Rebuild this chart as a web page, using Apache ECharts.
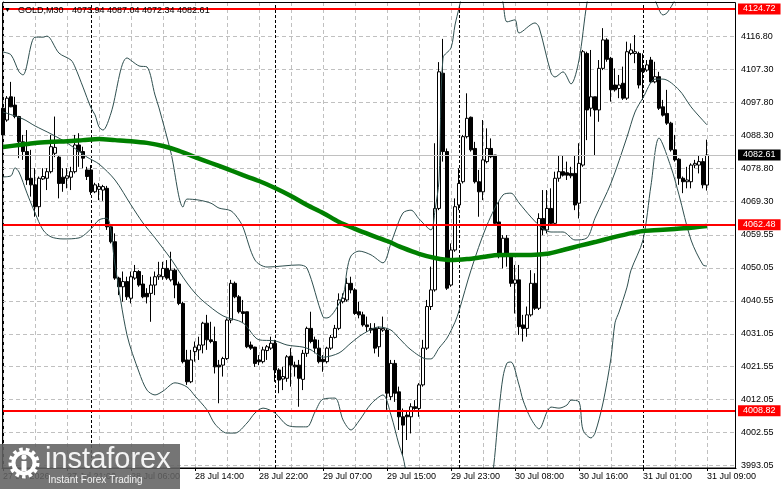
<!DOCTYPE html>
<html>
<head>
<meta charset="utf-8">
<script src="https://cdn.jsdelivr.net/npm/echarts@6.0.0/dist/echarts.min.js"></script>
<style>
html,body{margin:0;padding:0;background:#fff;}
#main{width:781px;height:489px;}
</style>
</head>
<body>
<div id="main"></div>
<script>
// GOLD M30, bar index 0..176 (last bar = 31 Jul 09:00)
var opens = [4096.1,4092.7,4099.4,4097.0,4093.7,4086.4,4083.6,4075.9,4074.0,4067.7,4075.7,4075.9,4077.8,4083.1,4082.0,4076.2,4075.9,4076.2,4077.8,4085.5,
4083.6,4078.3,4078.3,4072.0,4072.7,4072.5,4073.0,4061.9,4057.6,4047.1,4044.6,4046.1,4041.3,4047.1,4049.0,4045.4,4042.7,4042.7,4045.1,4047.5,
4047.5,4049.9,4046.6,4049.4,4045.4,4039.8,4023.5,4017.2,4025.9,4026.4,4027.8,4034.1,4029.3,4028.8,4022.0,4022.0,4023.9,4035.0,4045.6,4041.7,
4037.4,4037.4,4027.8,4027.2,4023.5,4023.0,4026.2,4026.9,4028.3,4020.6,4018.0,4018.2,4024.6,4022.0,4022.0,4017.9,4025.4,4032.6,4029.3,4026.9,
4023.7,4023.0,4026.9,4030.0,4032.6,4040.3,4040.8,4045.6,4043.7,4037.4,4036.5,4033.6,4032.6,4032.6,4027.3,4032.1,4032.1,4012.9,4022.5,4014.3,
4007.1,4007.6,4007.1,4010.0,4009.5,4016.3,4026.9,4038.9,4043.7,4067.2,4106.2,4083.6,4045.1,4055.2,4068.2,4074.9,4087.9,4093.5,4084.5,4074.9,
4072.0,4080.7,4084.5,4082.6,4063.3,4053.3,4058.6,4053.8,4045.6,4046.6,4033.6,4032.6,4036.5,4045.6,4038.4,4064.3,4061.0,4067.2,4062.9,4075.9,
4077.8,4077.5,4077.3,4077.3,4068.7,4079.7,4111.9,4096.1,4099.4,4095.6,4107.6,4115.8,4110.5,4102.8,4101.8,4103.3,4099.0,4111.9,4111.9,4111.9,
4107.6,4107.1,4110.0,4103.7,4105.2,4096.5,4094.6,4091.8,4084.1,4081.4,4075.9,4074.9,4074.9,4079.7,4079.7,4080.7,4073.94];
var closes = [4088.4,4099.0,4096.5,4093.7,4086.4,4083.6,4075.4,4074.0,4067.7,4075.9,4076.4,4077.8,4085.0,4084.8,4074.4,4074.4,4076.6,4077.8,4085.5,4083.6,
4081.7,4076.4,4072.0,4074.0,4073.5,4073.5,4061.9,4057.6,4047.1,4044.6,4046.1,4041.7,4047.5,4049.0,4045.1,4041.7,4041.7,4045.1,4047.5,4048.0,
4049.9,4047.1,4049.4,4045.1,4039.8,4023.0,4017.2,4023.5,4027.2,4027.8,4034.1,4029.3,4028.8,4021.5,4021.5,4023.9,4035.0,4045.6,4041.7,4037.4,
4036.9,4027.3,4026.9,4022.5,4023.0,4026.4,4027.3,4028.3,4020.6,4017.7,4018.7,4024.4,4022.0,4021.5,4018.2,4025.4,4032.6,4028.8,4026.9,4023.0,
4023.0,4026.9,4030.0,4032.6,4040.8,4041.3,4045.6,4043.7,4036.9,4036.5,4033.6,4033.1,4032.1,4026.9,4032.6,4032.6,4013.9,4022.5,4013.9,4007.1,
4004.7,4007.1,4010.0,4009.5,4016.3,4026.9,4038.9,4043.7,4067.2,4106.6,4083.6,4044.2,4055.2,4067.7,4074.4,4087.9,4093.2,4084.1,4074.9,4072.0,
4081.2,4084.5,4082.1,4062.9,4053.3,4058.6,4053.8,4045.6,4046.6,4033.1,4032.6,4036.5,4045.6,4038.4,4064.3,4061.0,4067.2,4062.9,4075.9,4077.8,
4076.8,4076.8,4076.6,4068.2,4080.2,4112.4,4095.6,4099.4,4095.6,4107.6,4115.8,4110.2,4101.4,4101.4,4102.8,4099.0,4112.4,4112.9,4112.4,4102.8,
4106.6,4108.6,4103.7,4105.2,4096.1,4094.1,4091.8,4084.1,4081.2,4075.9,4074.9,4075.4,4079.7,4080.2,4080.7,4074.0,4082.61];
var lows = [4087.9,4092.2,4096.4,4093.2,4081.7,4081.2,4074.0,4070.6,4064.8,4064.8,4075.4,4072.5,4077.3,4082.0,4070.1,4072.0,4073.0,4072.5,4077.3,4079.2,
4078.8,4075.4,4071.1,4071.6,4069.6,4069.4,4061.0,4057.1,4046.6,4042.2,4040.3,4040.8,4039.8,4046.6,4044.6,4041.3,4039.8,4034.5,4042.2,4046.6,
4046.6,4046.6,4046.1,4041.3,4039.3,4022.5,4016.3,4016.8,4023.0,4023.5,4025.4,4026.4,4028.3,4019.6,4011.0,4018.7,4023.5,4034.1,4041.3,4036.9,
4034.1,4026.9,4026.4,4021.5,4022.0,4022.5,4023.5,4026.4,4017.2,4013.9,4014.8,4017.2,4015.8,4018.7,4010.0,4014.8,4024.4,4028.3,4025.4,4022.5,
4020.1,4022.5,4026.4,4029.7,4032.1,4039.8,4040.3,4042.7,4036.5,4035.5,4033.1,4031.6,4031.2,4025.4,4024.4,4031.6,4009.1,4011.9,4011.4,4003.3,
3996.1,4000.4,4002.3,4009.1,4007.1,4015.8,4026.4,4037.9,4043.2,4066.7,4080.7,4043.7,4044.6,4054.7,4066.7,4074.4,4087.4,4083.6,4074.4,4064.8,
4069.6,4080.2,4081.7,4062.4,4052.8,4049.9,4050.4,4044.6,4036.9,4030.7,4028.8,4030.2,4036.0,4037.9,4037.9,4059.5,4060.0,4062.4,4062.4,4074.9,
4076.4,4075.4,4075.9,4066.7,4064.3,4079.2,4086.9,4093.7,4082.6,4092.2,4107.1,4109.5,4098.0,4100.9,4099.0,4098.5,4098.5,4111.4,4109.1,4101.8,
4098.5,4106.6,4103.3,4103.3,4095.6,4093.7,4091.3,4083.6,4080.7,4074.0,4071.6,4073.0,4073.0,4078.8,4077.3,4073.0,4072.34];
var highs = [4097.0,4099.6,4103.7,4099.4,4093.9,4088.4,4089.8,4084.1,4078.8,4076.4,4078.8,4078.8,4088.4,4093.7,4082.3,4078.8,4078.8,4079.2,4088.4,4088.9,
4085.0,4079.2,4079.7,4074.6,4074.5,4074.0,4073.7,4062.4,4060.0,4047.5,4049.0,4047.5,4049.0,4050.9,4049.4,4048.0,4044.2,4047.5,4049.0,4051.8,
4051.8,4052.3,4054.7,4049.9,4046.1,4040.3,4026.4,4026.4,4028.8,4030.2,4034.5,4036.5,4034.5,4033.1,4023.5,4024.4,4035.5,4046.6,4046.1,4042.2,
4040.8,4037.4,4028.8,4027.3,4024.9,4027.3,4027.8,4030.2,4029.3,4021.1,4021.5,4024.9,4026.9,4023.0,4023.5,4026.4,4033.1,4037.4,4030.2,4029.3,
4024.9,4027.3,4030.7,4033.6,4042.7,4042.7,4047.1,4047.5,4044.2,4040.3,4037.4,4036.0,4034.1,4034.1,4033.1,4036.0,4032.6,4023.5,4023.5,4015.8,
4009.5,4008.6,4011.0,4011.9,4016.8,4029.3,4040.8,4050.4,4086.0,4109.4,4116.1,4084.5,4057.1,4070.1,4078.8,4088.4,4100.4,4093.7,4086.4,4078.3,
4092.7,4090.3,4087.4,4082.6,4069.1,4059.5,4059.5,4054.3,4050.9,4050.9,4036.5,4038.9,4049.4,4048.5,4065.8,4072.5,4072.5,4073.0,4077.8,4082.6,
4082.6,4080.7,4079.2,4082.6,4086.0,4112.9,4112.4,4112.9,4099.4,4110.0,4119.2,4116.3,4110.9,4107.6,4105.7,4108.1,4115.3,4114.8,4117.2,4112.4,
4111.9,4110.0,4110.9,4109.5,4106.6,4098.5,4101.4,4092.2,4088.4,4081.7,4076.4,4079.2,4080.2,4081.2,4082.6,4081.7,4087.04];

// Bollinger bands (read at selected bars)
var bbUpperIdx = [0,2,4,5,8,10,11,14,17,18,20,22,23,24,25,27,31,34,36,38,39,42,45,46,49,52,54,57,59,60,63,66,74,76,80,81,85,86,87,89,
92,95,97,98,100,102,104,107,108,109,110,112,113,114,115,117,120,123,125,126,128,129,133,134,137,138,140,142,144,146,148,152,156,160,163,165,166,168,170,173,176];
var bbUpper = [4112.3,4111.5,4106.6,4105.7,4116.6,4116.6,4116.9,4112.0,4110.0,4108.0,4102.2,4096.2,4094.2,4090.7,4089.8,4094.7,4110.6,4108.3,4108.0,4099.9,
4096.2,4083.2,4067.6,4069.9,4069.6,4068.7,4067.3,4066.5,4063.9,4061.8,4052.3,4050.3,4050.9,4050.0,4035.9,4035.6,4042.2,4049.4,4053.5,4054.9,
4053.8,4051.5,4057.2,4060.4,4065.9,4066.7,4064.2,4061.0,4066.7,4075.4,4110.6,4113.5,4120.1,4125.0,4130.2,4138.9,4143.2,4136.0,4126.5,4121.0,
4121.6,4117.8,4120.7,4119.5,4106.3,4105.1,4106.6,4103.1,4110.0,4126.5,4136.0,4143.2,4140.3,4134.5,4127.3,4123.0,4123.6,4127.3,4131.6,4134.5,4136.0];
var bbMidIdx = [0,5,8,12,16,21,24,28,32,35,38,42,44,46,48,50,55,60,64,68,71,75,77,80,84,87,90,94,97,99,
102,106,107,109,111,113,114,117,121,125,127,129,132,135,137,140,143,146,148,152,156,158,160,163,165,169,172,176];
var bbMid = [4095.0,4093.0,4091.0,4088.7,4086.1,4082.0,4080.0,4075.4,4068.2,4063.0,4058.7,4052.6,4049.1,4045.7,4042.8,4040.5,4036.2,4034.2,4029.3,4029.0,
4027.8,4027.2,4026.4,4024.3,4025.5,4028.4,4031.0,4033.0,4032.1,4029.8,4026.4,4023.8,4023.8,4026.9,4029.8,4034.4,4037.6,4049.4,4062.4,4071.1,
4071.6,4068.8,4064.7,4061.3,4060.4,4060.4,4058.1,4058.7,4064.4,4074.5,4087.8,4095.0,4099.1,4104.5,4104.5,4101.4,4096.5,4091.3];
var bbLowIdx = [0,2,3,4,6,8,10,12,15,19,22,24,26,28,31,34,36,38,40,43,46,48,51,53,56,58,61,63,65,68,71,74,76,78,80,83,85,87,89,92,
95,97,99,100,101,105,110,115,120,122,124,125,126,127,129,130,132,134,136,137,139,141,142,144,145,147,148,150,152,153,154,156,157,160,162,164,167,169,172,175,176];
var bbLow = [4076.3,4076.6,4078.9,4077.7,4071.6,4065.9,4061.0,4059.0,4058.4,4058.7,4061.3,4063.9,4064.4,4050.9,4030.7,4020.0,4014.8,4013.4,4014.5,4016.9,
4015.7,4013.1,4009.1,4005.0,4002.4,4002.4,4005.3,4008.2,4009.6,4008.2,4004.7,4004.2,4004.2,4008.5,4012.2,4012.5,4006.2,4003.3,4005.9,4010.8,
4013.4,4007.6,3999.0,3995.5,3990.3,3977.3,3970.1,3973.0,3983.1,3987.4,4009.1,4018.6,4022.6,4022.9,4016.3,4011.9,4006.5,4003.6,4008.5,4009.9,
4009.6,4010.5,4011.9,4011.4,4003.3,4001.0,4002.4,4011.1,4024.1,4034.2,4037.3,4044.5,4049.4,4058.1,4073.9,4087.5,4079.1,4071.1,4058.1,4050.9,4050.6];

// green moving average, every 4th bar
var maIdx = [0,4,8,12,16,20,24,28,32,36,40,44,48,52,56,60,64,68,72,76,80,84,88,92,96,100,104,108,112,116,120,124,128,132,136,140,144,148,152,156,160,164,168,172,176];
var maVals = [4084.9,4085.5,4086.1,4086.4,4086.6,4086.9,4087.2,4086.9,4086.6,4086.1,4085.2,4083.8,4082.0,4080.3,4078.6,4076.8,4075.1,4073.1,4070.8,4068.2,
4065.9,4063.3,4061.3,4059.5,4057.8,4055.8,4054.1,4052.9,4052.3,4052.6,4053.2,4053.8,4053.8,4053.8,4054.1,4055.2,4056.4,4057.5,4058.7,4059.8,
4060.7,4061.0,4061.3,4061.6,4062.1];

var yTicks = [3993.05,4002.55,4012.05,4021.55,4031.05,4040.55,4050.05,4059.55,4069.30,4078.80,4088.30,4097.80,4107.30,4116.80];
var xTickIdx = [0,16,32,48,64,80,96,112,128,144,160,176];
var xTickLabels = ['27 Jul 2026','27 Jul 21:00','28 Jul 06:00','28 Jul 14:00','28 Jul 22:00','29 Jul 07:00','29 Jul 15:00','29 Jul 23:00','30 Jul 08:00','30 Jul 16:00','31 Jul 01:00','31 Jul 09:00'];
var dayStarts = [22,68,114,160];
var levels = [4124.72,4062.48,4008.82];
var lastPrice = 4082.61;

var FONT = 'Liberation Sans';
function pairs(idx, vals){ return idx.map(function(x, k){ return [x, vals[k]]; }); }

var candles = opens.map(function(o, i){ return [i, o, closes[i], lows[i], highs[i]]; });

// dashed grid + day separators
var gridLines = [];
yTicks.forEach(function(v){ gridLines.push({yAxis: v}); });
for (var g = 0; g <= 176; g += 8) {
    if (dayStarts.indexOf(g) < 0) gridLines.push({xAxis: g});
}
dayStarts.forEach(function(d){
    gridLines.push({xAxis: d, lineStyle: {color: '#000', type: [3, 2], width: 1}});
});

var levelLines = levels.map(function(v){ return {yAxis: v}; });
levelLines.unshift({
    yAxis: lastPrice,
    lineStyle: {color: '#c0c0c0', width: 1, type: 'solid'},
    label: {backgroundColor: '#000'}
});

var myChart = echarts.init(document.getElementById('main'));
option = {
    animation: false,
    backgroundColor: '#fff',
    textStyle: {fontFamily: FONT},
    grid: {left: 2, right: 45, top: 2, bottom: 21, containLabel: false, outerBoundsMode: 'none'},
    xAxis: {
        type: 'value',
        min: -0.25,
        max: 183.25,
        axisLine: {show: true, lineStyle: {color: '#000', width: 1}},
        axisTick: {show: true, length: 3, customValues: xTickIdx, lineStyle: {color: '#000'}},
        axisLabel: {
            customValues: xTickIdx,
            align: 'left',
            margin: 4,
            color: '#000',
            fontSize: 9,
            fontFamily: FONT,
            formatter: function (v) { var k = xTickIdx.indexOf(Math.round(v)); return k < 0 ? '' : xTickLabels[k]; }
        },
        splitLine: {show: false}
    },
    yAxis: {
        type: 'value',
        position: 'right',
        min: 3992.33,
        max: 4126.74,
        axisLine: {show: true, lineStyle: {color: '#000', width: 1}},
        axisTick: {show: true, length: 3, customValues: yTicks, lineStyle: {color: '#000'}},
        axisLabel: {
            customValues: yTicks,
            margin: 5,
            color: '#000',
            fontSize: 9,
            fontFamily: FONT,
            formatter: function (v) { return v.toFixed(2); }
        },
        splitLine: {show: false}
    },
    series: [
        {
            name: 'bbUpper', type: 'line', data: pairs(bbUpperIdx, bbUpper),
            symbol: 'none', smooth: 0.3, silent: true,
            lineStyle: {color: '#2f4f4f', width: 1}
        },
        {
            name: 'bbMid', type: 'line', data: pairs(bbMidIdx, bbMid),
            symbol: 'none', smooth: 0.3, silent: true,
            lineStyle: {color: '#2f4f4f', width: 1}
        },
        {
            name: 'bbLow', type: 'line', data: pairs(bbLowIdx, bbLow),
            symbol: 'none', smooth: 0.3, silent: true,
            lineStyle: {color: '#2f4f4f', width: 1},
            markLine: {
                silent: true, z: 1, symbol: ['none', 'none'],
                label: {show: false},
                lineStyle: {color: '#c0c0c0', type: [4, 3], width: 1},
                data: gridLines
            }
        },
        {
            name: 'GOLD', type: 'candlestick',
            dimensions: ['idx', 'open', 'close', 'lowest', 'highest'],
            encode: {x: 'idx', y: ['open', 'close', 'lowest', 'highest']},
            data: candles,
            barWidth: 3,
            itemStyle: {color: '#fff', color0: '#000', borderColor: '#000', borderColor0: '#000', borderWidth: 1},
            markLine: {
                silent: true, symbol: ['none', 'none'],
                lineStyle: {color: '#ff0000', type: 'solid', width: 2},
                label: {
                    show: true, position: 'end', distance: 2,
                    color: '#fff', backgroundColor: '#ff0000',
                    fontSize: 9, fontFamily: FONT, lineHeight: 11, padding: [0, 5, 0, 5],
                    formatter: function (p) { return p.value.toFixed(2); }
                },
                data: levelLines
            }
        },
        {
            name: 'MA', type: 'line', data: pairs(maIdx, maVals),
            symbol: 'none', smooth: 0.3, silent: true,
            lineStyle: {color: '#008000', width: 4.5}
        }
    ],
    graphic: [
        {type: 'rect', z: 90, silent: true, shape: {x: 2.5, y: 2.5, width: 733, height: 465.5}, style: {fill: 'none', stroke: '#000', lineWidth: 1}},
        {type: 'text', z: 100, left: 4, top: 7, style: {text: '▼', fontSize: 7, fill: '#000'}},
        {type: 'text', z: 100, left: 18, top: 6, style: {text: 'GOLD,M30', fontSize: 9, fontFamily: FONT, fill: '#000'}},
        {type: 'text', z: 100, left: 72, top: 6, style: {text: '4073.94 4087.04 4072.34 4082.61', fontSize: 9, fontFamily: FONT, fill: '#000'}},
        // instaforex badge
        {type: 'rect', z: 100, silent: true, shape: {x: 0, y: 444, width: 180, height: 45}, style: {fill: 'rgba(98,98,98,0.88)'}},
        {type: 'circle', z: 101, shape: {cx: 24, cy: 463, r: 13.5}, style: {fill: 'none', stroke: '#fff', lineWidth: 4, lineDash: [3.5, 3]}},
        {type: 'circle', z: 101, shape: {cx: 24, cy: 463, r: 10.5}, style: {fill: 'none', stroke: '#fff', lineWidth: 4}},
        {type: 'circle', z: 101, shape: {cx: 24, cy: 457, r: 2.6}, style: {fill: '#fff'}},
        {type: 'rect', z: 101, shape: {x: 21.5, y: 461, width: 5, height: 10}, style: {fill: '#fff'}},
        {type: 'text', z: 101, left: 45, top: 445, style: {text: 'instaforex', fontSize: 29, fontFamily: FONT, fill: '#f4f4f4'}},
        {type: 'text', z: 101, left: 48, top: 475, style: {text: 'Instant Forex Trading', fontSize: 10, fontFamily: FONT, fill: '#f4f4f4'}}
    ]
};
myChart.setOption(option);
</script>
</body>
</html>
